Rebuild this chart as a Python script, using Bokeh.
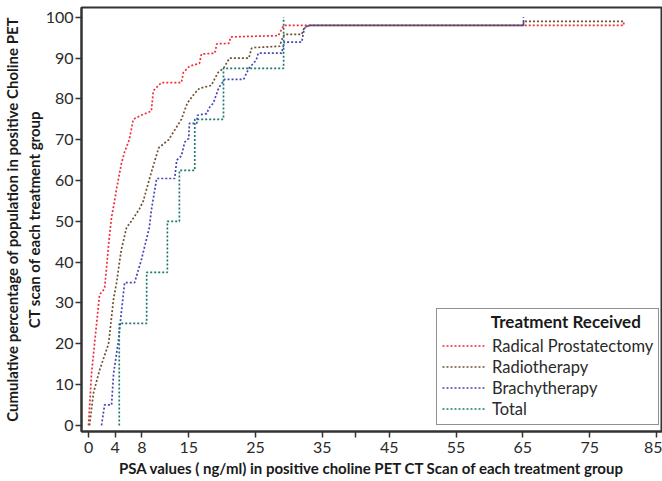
from bokeh.plotting import figure
from bokeh.models import Range1d, FixedTicker, Legend, LegendItem, Label
from bokeh.embed import file_html
from bokeh.resources import INLINE

# ---- data ----
series_names = ["Radical Prostatectomy", "Radiotherapy", "Brachytherapy", "Total"]

rp_x = [0, 0.45, 0.9, 1.65, 2.4, 2.7, 3.1, 3.45, 3.9, 4.2, 4.9, 5.4, 6.1, 6.7, 7.9, 9.4,
        9.7, 10.9, 13.9, 14.2, 15.1, 16.6, 16.9, 18.9, 19.2, 21.0, 21.3, 28.4, 29.2, 80.1, 80.1]
rp_y = [0, 12.7, 20, 32, 33.5, 38.7, 46, 51, 55, 58, 64, 67, 70, 75, 76, 77,
        82, 84, 84, 86.5, 88, 88.7, 91, 91.2, 93.5, 93.6, 95.2, 95.5, 98, 98, 99]

rt_x = [0.15, 0.75, 1.65, 3.0, 3.75, 4.2, 4.9, 5.7, 6.4, 7.6, 8.2, 9.4, 10.5, 12.0, 13.9,
        14.8, 15.9, 16.6, 18.4, 18.9, 19.4, 20.2, 21.1, 24.0, 24.4, 24.9, 28.6, 28.9, 29.3,
        31.9, 32.3, 33.0, 65.1, 65.1, 80.1]
rt_y = [0, 8, 13.5, 20, 31, 35, 43, 48.5, 50, 53, 55, 62, 68, 70, 75,
        79, 81.4, 82.6, 83.3, 85, 86.5, 87.5, 90, 90, 92.4, 92.6, 92.9, 94.4, 95.8,
        95.8, 97.5, 98, 98, 99, 99]

bt_x = [1.95, 2.4, 3.45, 3.75, 4.5, 4.9, 5.4, 6.9, 7.9, 9.1, 9.4, 10.2, 12.9, 13.2, 13.9,
        14.4, 15.0, 15.1, 16.2, 16.3, 17.7, 18.0, 18.7, 19.2, 19.5, 20.4, 23.2, 24.0, 25.1,
        25.4, 28.9, 29.3, 31.9, 32.3, 33.0, 65.1, 65.1]
bt_y = [0, 5, 5, 12.7, 21, 27.5, 35, 35, 40.5, 48.5, 52.7, 60.5, 60.5, 65, 66,
        69.4, 70.3, 74, 74, 76, 76.4, 77.7, 79, 81.4, 82.8, 84.8, 84.8, 87.5, 89.5,
        91.2, 91.2, 93.9, 93.9, 97.3, 98, 98, 100]

tot_x = [4.6, 4.6, 8.7, 8.7, 11.8, 11.8, 13.6, 13.6, 15.9, 15.9, 20.2, 20.2, 29.2, 29.2]
tot_y = [0, 25, 25, 37.5, 37.5, 50, 50, 62.5, 62.5, 75, 75, 87.5, 87.5, 100]

x_ticks = [0, 4, 8, 15, 25, 35, 40, 45, 55, 65, 75, 85]
x_tick_labels = ["0", "4", "8", "15", "25", "35", "", "45", "55", "65", "75", "85"]
y_ticks = [0, 10, 20, 30, 40, 50, 60, 70, 80, 90, 100]

colors = ["#ec2f3b", "#6e5230", "#4646b4", "#1d7a6e"]
FONT = "Lato"

p = figure(width=662, height=481, output_backend="svg", toolbar_location=None,
           x_range=Range1d(-1.05, 85.9), y_range=Range1d(-1.5, 102.4),
           min_border_left=80, min_border_right=0, min_border_top=7, min_border_bottom=50)
p.xgrid.visible = False
p.ygrid.visible = False
p.outline_line_color = "#333333"
p.outline_line_width = 2
p.background_fill_color = "white"
p.border_fill_color = "white"

renderers = []
for xs, ys, c in zip([rp_x, rt_x, bt_x, tot_x], [rp_y, rt_y, bt_y, tot_y], colors):
    r = p.line(xs, ys, line_color=c, line_width=1.7, line_dash="2 2")
    renderers.append(r)

for ax in (p.xaxis[0], p.yaxis[0]):
    ax.axis_line_color = "#333333"
    ax.axis_line_width = 2
    ax.major_tick_line_color = "#333333"
    ax.major_tick_line_width = 1.5
    ax.major_tick_out = 6
    ax.major_tick_in = 0
    ax.minor_tick_line_color = None
    ax.major_label_text_font = FONT
    ax.major_label_text_font_size = "16px"
    ax.major_label_text_color = "#2a2a2a"
    ax.axis_label_text_font = FONT
    ax.axis_label_text_font_style = "bold"
    ax.axis_label_text_font_size = "15px"
    ax.axis_label_text_color = "#1a1a1a"

p.xaxis.ticker = FixedTicker(ticks=x_ticks)
p.xaxis.major_label_overrides = {t: l for t, l in zip(x_ticks, x_tick_labels)}
p.yaxis.ticker = FixedTicker(ticks=y_ticks)
p.xaxis.axis_label = "PSA values ( ng/ml) in positive choline PET CT Scan of each treatment group"
p.yaxis.axis_label = "Cumulative percentage of population in positive Choline PET\nCT scan of each treatment group"
p.xaxis.major_label_standoff = 4
p.xaxis.axis_label_standoff = 3
p.yaxis.major_label_standoff = 2
p.yaxis.axis_label_standoff = 0

items = [LegendItem(label=n, renderers=[r]) for n, r in zip(series_names, renderers)]
legend = Legend(items=items, location=(355, 6),
                title="Treatment Received", title_text_alpha=0.0,
                title_text_font=FONT, title_text_font_style="bold", title_text_font_size="16px",
                title_standoff=2,
                label_text_font=FONT, label_text_font_size="16.5px", label_text_color="#2a2a2a",
                glyph_width=44, glyph_height=21, label_height=21, label_standoff=6,
                spacing=0, padding=5, margin=0,
                border_line_color="#222222", border_line_width=1.5,
                background_fill_alpha=0.0)
p.add_layout(legend, "center")

title_lbl = Label(x=60.2, y=25.4, text="Treatment Received", text_font=FONT,
                  text_font_style="bold", text_font_size="17px", text_color="#1a1a1a",
                  text_baseline="middle", text_align="left", level="overlay")
p.add_layout(title_lbl)

open("out.html", "w").write(file_html(p, INLINE))
